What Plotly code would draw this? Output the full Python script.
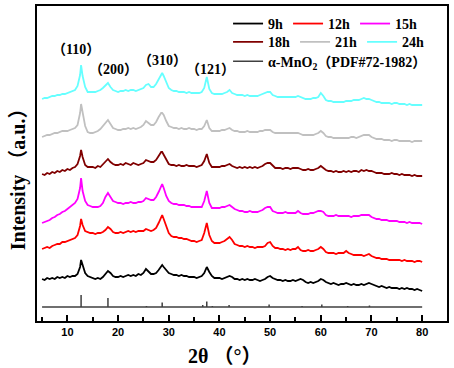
import plotly.graph_objects as go

# ---------------- data ----------------
TWO_THETA = [
    5.0, 5.5, 6.0, 6.5, 7.0, 7.5, 8.0, 8.5, 9.0, 9.5,
    10.0, 10.5, 11.0, 11.5, 12.0, 12.5, 12.7, 13.0, 13.5, 14.0, 14.5,
    15.0, 15.5, 16.0, 16.5, 17.0, 17.5, 18.0, 18.5, 19.0, 19.5,
    20.0, 20.5, 21.0, 21.5, 22.0, 22.5, 23.0, 23.5, 24.0, 24.5,
    25.0, 25.5, 26.0, 26.5, 27.0, 27.5, 28.0, 28.5, 28.7, 29.0, 29.5,
    30.0, 30.5, 31.0, 31.5, 32.0, 32.5, 33.0, 33.5, 34.0, 34.5,
    35.0, 35.5, 36.0, 36.5, 37.0, 37.5, 38.0, 38.5, 39.0, 39.5,
    40.0, 40.5, 41.0, 41.5, 42.0, 42.5, 43.0, 43.5, 44.0, 44.5,
    45.0, 45.5, 46.0, 46.5, 47.0, 47.5, 48.0, 48.5, 49.0, 49.5,
    50.0, 50.5, 51.0, 51.5, 52.0, 52.5, 53.0, 53.5, 54.0, 54.5,
    55.0, 55.5, 56.0, 56.5, 57.0, 57.5, 58.0, 58.5, 59.0, 59.5,
    60.0, 60.5, 61.0, 61.5, 62.0, 62.5, 63.0, 63.5, 64.0, 64.5,
    65.0, 65.5, 66.0, 66.5, 67.0, 67.5, 68.0, 68.5, 69.0, 69.5,
    70.0, 70.5, 71.0, 71.5, 72.0, 72.5, 73.0, 73.5, 74.0, 74.5,
    75.0, 75.5, 76.0, 76.5, 77.0, 77.5, 78.0, 78.5, 79.0, 79.5,
    80.0,
]

I_9H = [
    42, 41, 43, 42, 43, 42, 44, 43, 44, 43,
    45, 44, 45, 45, 47, 54, 61, 55, 48, 45, 44,
    43, 42, 43, 42, 44, 47, 50, 48, 45, 44,
    44, 45, 44, 45, 46, 45, 46, 45, 47, 46,
    48, 52, 49, 47, 47, 48, 51, 55, 56, 54, 51,
    48, 47, 46, 46, 45, 46, 45, 45, 44, 44,
    44, 43, 44, 45, 48, 54, 49, 45, 43, 43,
    43, 42, 43, 44, 45, 44, 42, 42, 41, 42,
    41, 42, 41, 41, 42, 41, 40, 41, 42, 44,
    45, 43, 42, 41, 41, 40, 41, 40, 40, 41,
    40, 41, 42, 41, 39, 38, 39, 38, 39, 40,
    42, 41, 39, 38, 37, 38, 37, 36, 37, 37,
    38, 37, 36, 37, 36, 36, 37, 36, 37, 38,
    37, 36, 35, 34, 35, 34, 33, 34, 33, 33,
    33, 32, 33, 32, 33, 32, 32, 31, 32, 31,
    30,
]

I_12H = [
    72, 73, 74, 73, 75, 76, 77, 77, 79, 79,
    80, 81, 82, 83, 86, 95, 102, 96, 90, 89, 88,
    88, 87, 88, 88, 89, 91, 94, 92, 89, 88,
    88, 89, 88, 89, 90, 89, 90, 89, 90, 90,
    90, 92, 91, 90, 91, 93, 98, 104, 106, 102, 95,
    88, 85, 84, 84, 83, 83, 82, 82, 81, 80,
    80, 79, 80, 81, 88, 98, 86, 80, 78, 78,
    78, 79, 80, 82, 84, 81, 77, 76, 75, 75,
    74, 75, 74, 74, 73, 74, 74, 74, 75, 78,
    79, 75, 73, 73, 72, 72, 71, 72, 71, 72,
    72, 74, 71, 70, 70, 71, 70, 70, 71, 72,
    74, 72, 69, 68, 68, 68, 67, 68, 68, 68,
    70, 68, 67, 66, 66, 66, 66, 65, 66, 67,
    65, 64, 63, 63, 62, 62, 62, 61, 61, 61,
    61, 61, 60, 61, 60, 60, 60, 59, 60, 60,
    59,
]

I_15H = [
    98, 99, 100, 101, 103, 104, 106, 107, 109, 110,
    112, 114, 116, 118, 122, 133, 143, 130, 120, 116, 115,
    114, 114, 114, 115, 118, 124, 128, 124, 120, 119,
    118, 118, 117, 118, 118, 119, 118, 118, 119, 119,
    120, 123, 122, 121, 121, 124, 129, 135, 137, 133, 125,
    120, 118, 117, 117, 116, 116, 116, 115, 115, 114,
    114, 114, 114, 114, 120, 130, 118, 113, 113, 113,
    113, 114, 114, 115, 116, 114, 112, 111, 110, 110,
    109, 109, 110, 109, 109, 109, 110, 111, 113, 114,
    114, 110, 109, 108, 108, 108, 109, 108, 108, 108,
    108, 110, 108, 107, 107, 107, 108, 108, 109, 110,
    110, 109, 106, 105, 105, 105, 106, 105, 105, 105,
    105, 105, 104, 105, 105, 105, 106, 106, 106, 106,
    104, 103, 102, 102, 101, 101, 101, 100, 100, 100,
    100, 99, 99, 99, 98, 99, 98, 98, 98, 98,
    97,
]

I_18H = [
    147, 146, 148, 147, 149, 148, 150, 149, 151, 150,
    152, 151, 153, 154, 157, 165, 171, 164, 156, 154, 154,
    154, 153, 155, 154, 157, 160, 162, 159, 157, 156,
    156, 157, 156, 158, 157, 156, 158, 157, 156, 157,
    158, 161, 160, 159, 159, 161, 165, 169, 169, 166, 161,
    157, 156, 156, 155, 156, 155, 155, 156, 155, 155,
    155, 154, 155, 156, 160, 167, 158, 154, 154, 154,
    154, 155, 155, 156, 157, 155, 154, 153, 154, 153,
    154, 153, 154, 153, 154, 153, 154, 155, 157, 158,
    158, 155, 153, 153, 153, 152, 153, 153, 152, 153,
    153, 153, 152, 151, 151, 152, 151, 151, 152, 153,
    155, 153, 151, 150, 150, 149, 150, 149, 149, 150,
    149, 150, 149, 150, 150, 149, 151, 150, 151, 150,
    150, 149, 148, 148, 148, 147, 147, 147, 148, 147,
    147, 146, 147, 146, 146, 146, 145, 146, 145, 145,
    145,
]

I_21H = [
    184, 185, 186, 186, 187, 188, 188, 189, 190, 190,
    190, 191, 192, 193, 196, 208, 217, 207, 195, 189, 188,
    188, 189, 190, 192, 195, 199, 201, 197, 193, 192,
    191, 191, 192, 192, 193, 192, 193, 192, 193, 194,
    196, 200, 198, 196, 196, 199, 204, 208, 208, 206, 200,
    195, 194, 193, 193, 192, 193, 192, 192, 193, 192,
    192, 191, 192, 192, 195, 201, 193, 190, 190, 190,
    190, 191, 191, 192, 193, 191, 190, 190, 189, 189,
    189, 190, 189, 189, 189, 189, 190, 190, 191, 191,
    191, 189, 188, 188, 188, 188, 188, 188, 188, 188,
    188, 188, 187, 186, 186, 186, 186, 186, 187, 188,
    190, 188, 185, 184, 184, 183, 183, 183, 183, 183,
    183, 183, 184, 184, 183, 184, 185, 186, 186, 186,
    184, 183, 182, 182, 182, 181, 181, 181, 180, 181,
    181, 180, 180, 180, 180, 180, 179, 180, 180, 180,
    180,
]

I_24H = [
    222, 223, 223, 224, 225, 225, 226, 226, 227, 227,
    228, 229, 230, 231, 235, 246, 256, 245, 234, 229, 229,
    229, 229, 230, 231, 233, 236, 238, 234, 231, 230,
    229, 230, 230, 231, 230, 231, 231, 230, 231, 232,
    233, 236, 237, 234, 234, 237, 242, 247, 248, 245, 238,
    233, 231, 230, 230, 229, 229, 229, 228, 229, 228,
    228, 228, 228, 229, 233, 244, 232, 228, 227, 227,
    227, 227, 228, 229, 231, 228, 227, 226, 226, 226,
    225, 226, 225, 225, 225, 225, 226, 227, 228, 229,
    229, 226, 225, 224, 224, 224, 224, 224, 224, 224,
    224, 225, 224, 223, 222, 222, 222, 223, 223, 224,
    228, 225, 221, 220, 220, 219, 219, 219, 219, 219,
    220, 220, 220, 221, 221, 221, 222, 223, 222, 222,
    221, 220, 219, 219, 218, 218, 218, 218, 217, 218,
    218, 217, 217, 217, 216, 217, 216, 216, 216, 216,
    216,
]

# standard pattern alpha-MnO2 (PDF#72-1982): stick positions and heights
REF_RANGE = [5.0, 80.0]
REF_BASE = 14
STICK_POS = [12.7, 18.0, 25.6, 28.7, 36.7, 37.5, 38.6, 41.9, 49.8, 56.3, 60.2, 65.3, 69.6, 72.6]
STICK_INT = [12, 9, 1, 4.5, 2, 5.5, 1, 2, 2.5, 1, 2.5, 1, 1.5, 0.8]

SERIES_NAMES = ["9h", "12h", "15h", "18h", "21h", "24h"]
SERIES_DATA = [I_9H, I_12H, I_15H, I_18H, I_21H, I_24H]
REF_NAME = "α-MnO<sub>2</sub>（PDF#72-1982）"

PEAK_LABELS = ["（110）", "（200）", "（310）", "（121）"]
X_TICKS = [10, 20, 30, 40, 50, 60, 70, 80]

# ---------------- style ----------------
COLORS = ["#000000", "#ff0000", "#ff00ff", "#800000", "#c0c0c0", "#66ffff"]
LEGEND_OF = ["legend", "legend", "legend", "legend2", "legend2", "legend2"]
SERIF = "Liberation Serif, Noto Sans CJK TC, serif"

for arr in SERIES_DATA:
    assert len(arr) == len(TWO_THETA), len(arr)

fig = go.Figure()
for name, ys, col, lg in zip(SERIES_NAMES, SERIES_DATA, COLORS, LEGEND_OF):
    fig.add_trace(go.Scatter(x=TWO_THETA, y=ys, mode="lines", name=name,
                             line=dict(color=col, width=1.8), legend=lg))

# build stick pattern path from data
rx = [REF_RANGE[0]]
ry = [REF_BASE]
for p, h in zip(STICK_POS, STICK_INT):
    rx += [p, p, p]
    ry += [REF_BASE, REF_BASE + h, REF_BASE]
rx.append(REF_RANGE[1])
ry.append(REF_BASE)
fig.add_trace(go.Scatter(x=rx, y=ry, mode="lines", name=REF_NAME,
                         line=dict(color="#404040", width=1.5), legend="legend3"))

# peak labels
label_pos = [(11.7, 272), (19.0, 252), (28.7, 261), (38.3, 252)]
for txt, (lx, ly) in zip(PEAK_LABELS, label_pos):
    fig.add_annotation(x=lx, y=ly, text=txt, showarrow=False,
                       font=dict(family=SERIF, size=14, color="black", weight="bold"))

# axis titles
fig.add_annotation(xref="paper", yref="paper", x=0.4585, y=-0.152, text="2θ （°）",
                   showarrow=False, font=dict(family=SERIF, size=20, color="black", weight="bold"))
fig.add_annotation(xref="paper", yref="paper", x=-0.076, y=0.467, text="Intensity （a.u.）",
                   textangle=-90, showarrow=False,
                   font=dict(family=SERIF, size=20, color="black", weight="bold"))

leg_common = dict(orientation="h", xanchor="left", yanchor="middle",
                  bgcolor="rgba(0,0,0,0)", borderwidth=0,
                  font=dict(family=SERIF, size=14, color="black", weight="bold"),
                  tracegroupgap=0, itemwidth=30)

fig.update_layout(
    width=454, height=368,
    margin=dict(l=37, r=7, t=6, b=47, autoexpand=False),
    paper_bgcolor="white", plot_bgcolor="white",
    showlegend=True,
    legend=dict(x=0.466, y=0.943, **leg_common),
    legend2=dict(x=0.466, y=0.885, **leg_common),
    legend3=dict(x=0.466, y=0.823, **leg_common),
    xaxis=dict(range=[4.0, 84.9], tickvals=X_TICKS, ticks="inside", ticklen=6, tickwidth=2,
               tickcolor="black", showline=True, linewidth=2, linecolor="black", mirror=True,
               showgrid=False, zeroline=False, automargin=False,
               tickfont=dict(family="Liberation Sans, Arial, sans-serif", size=11,
                             color="black", weight="bold"),
               minor=dict(tickvals=[5, 15, 25, 35, 45, 55, 65, 75], ticks="inside",
                          ticklen=4, tickwidth=2, tickcolor="black", showgrid=False)),
    yaxis=dict(range=[0, 315], showticklabels=False, ticks="", showline=True, linewidth=2,
               linecolor="black", mirror=True, showgrid=False, zeroline=False, automargin=False),
)

fig.write_html("out.html", config={"displayModeBar": False},
               post_script="document.body.style.margin='0';document.body.style.padding='0';")
